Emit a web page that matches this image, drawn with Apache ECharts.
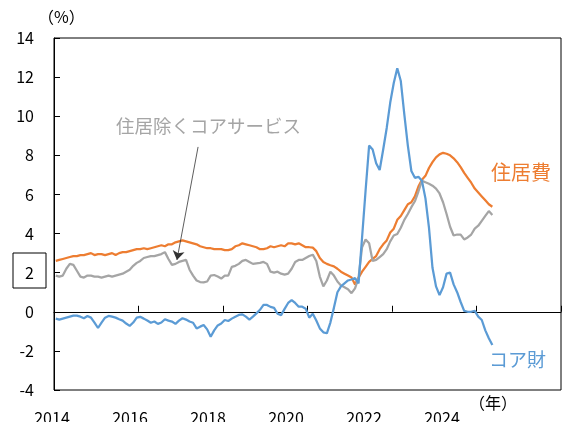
<!DOCTYPE html>
<html><head><meta charset="utf-8">
<script src="https://cdn.jsdelivr.net/npm/echarts@6/dist/echarts.min.js"></script>
<style>html,body{margin:0;padding:0;background:#fff}#c{width:564px;height:422px}</style>
</head><body><div id="c"></div>
<script>
// Monthly data, Jan 2014 - May 2024 (YoY %)
const startYear = 2014;
const shelter = [
 2.6,2.65,2.7,2.75,2.8,2.85,2.85,2.9,2.9,2.95,3.0,2.9,
 2.95,2.95,2.9,2.95,3.0,2.9,3.0,3.05,3.05,3.1,3.15,3.2,
 3.2,3.25,3.2,3.25,3.3,3.35,3.4,3.35,3.45,3.45,3.55,3.6,
 3.65,3.6,3.55,3.5,3.45,3.35,3.3,3.25,3.25,3.2,3.2,3.2,
 3.15,3.15,3.2,3.35,3.4,3.5,3.45,3.4,3.35,3.3,3.2,3.2,
 3.25,3.35,3.3,3.35,3.4,3.35,3.5,3.5,3.45,3.5,3.4,3.3,
 3.3,3.28,3.1,2.75,2.55,2.45,2.38,2.32,2.2,2.05,1.95,1.85,
 1.75,1.4,1.75,2.05,2.3,2.55,2.7,2.85,3.2,3.45,3.65,4.05,
 4.25,4.7,4.9,5.2,5.5,5.6,5.9,6.4,6.75,6.95,7.35,7.65,
 7.9,8.05,8.13,8.08,8.0,7.85,7.65,7.4,7.1,6.85,6.6,6.3,
 6.1,5.9,5.7,5.5,5.37
];
const servicesExShelter = [
 1.85,1.8,1.85,2.2,2.45,2.4,2.1,1.8,1.75,1.85,1.85,1.8,
 1.8,1.75,1.8,1.85,1.8,1.85,1.9,1.95,2.05,2.15,2.35,2.5,
 2.6,2.75,2.8,2.85,2.85,2.9,2.95,3.05,2.7,2.4,2.45,2.55,
 2.6,2.65,2.15,1.85,1.6,1.52,1.5,1.55,1.85,1.88,1.8,1.7,
 1.85,1.85,2.3,2.35,2.45,2.6,2.65,2.55,2.45,2.48,2.5,2.55,
 2.45,2.05,2.0,2.05,1.95,1.9,1.95,2.2,2.55,2.65,2.65,2.75,
 2.85,2.92,2.6,1.8,1.3,1.6,2.05,1.85,1.55,1.35,1.25,1.15,
 0.95,1.2,1.75,3.3,3.7,3.5,2.6,2.65,2.8,2.95,3.2,3.6,
 3.9,3.98,4.3,4.7,5.0,5.35,5.65,6.15,6.7,6.62,6.55,6.45,
 6.3,6.05,5.6,5.0,4.35,3.9,3.95,3.95,3.7,3.8,3.95,4.25,
 4.4,4.65,4.9,5.15,4.95
];
const coreGoods = [
 -0.35,-0.4,-0.35,-0.3,-0.25,-0.2,-0.2,-0.25,-0.33,-0.22,-0.3,-0.55,
 -0.83,-0.55,-0.3,-0.21,-0.25,-0.3,-0.38,-0.45,-0.6,-0.72,-0.55,-0.3,
 -0.26,-0.35,-0.45,-0.56,-0.5,-0.62,-0.55,-0.38,-0.45,-0.5,-0.62,-0.45,
 -0.33,-0.4,-0.5,-0.56,-0.85,-0.76,-0.68,-0.9,-1.28,-0.95,-0.7,-0.6,
 -0.42,-0.47,-0.35,-0.25,-0.16,-0.13,-0.25,-0.4,-0.25,-0.08,0.1,0.35,
 0.35,0.25,0.2,-0.1,-0.17,0.15,0.45,0.6,0.45,0.26,0.26,0.16,
 -0.3,-0.1,-0.45,-0.85,-1.05,-1.1,-0.55,0.2,1.0,1.3,1.45,1.6,
 1.65,1.72,1.45,3.8,6.2,8.5,8.3,7.6,7.25,8.3,9.4,10.7,
 11.7,12.45,11.8,10.1,8.5,7.2,6.85,6.9,6.7,5.8,4.3,2.25,
 1.3,0.85,1.25,1.95,2.0,1.4,1.0,0.5,0.05,0.0,0.0,0.05,
 -0.25,-0.42,-0.95,-1.35,-1.7
];
const yearTicks = [2014, 2016, 2018, 2020, 2022, 2024];
const seriesNames = ['住居費', '住居除くコアサービス', 'コア財'];
const colors = ['#ED7D31', '#A5A5A5', '#5B9BD5'];

// x position of each month: mid-month, in years
const toXY = arr => arr.map((v, i) => [startYear + (i + 0.5) / 12, v]);
const FONT = "'Noto Sans CJK JP','Noto Sans',sans-serif";

const chart = echarts.init(document.getElementById('c'), null, {renderer: 'canvas'});
chart.setOption({
  animation: false,
  textStyle: {fontFamily: FONT},
  grid: [
    {left: 54, right: 3, top: 38, bottom: 32, show: true, borderColor: '#000', borderWidth: 1,
     containLabel: false, outerBoundsMode: 'none'},
    {left: 52, right: 44, top: 38, bottom: 32, show: false,
     containLabel: false, outerBoundsMode: 'none'}
  ],
  xAxis: [
    {type: 'value', gridIndex: 0, min: 2014, max: 2026, interval: 2,
     axisLine: {onZero: true, lineStyle: {color: '#000', width: 1}},
     axisTick: {show: true, inside: true, length: 6, lineStyle: {color: '#000'}},
     axisLabel: {show: false}, splitLine: {show: false}},
    {type: 'value', gridIndex: 1, min: 2014, max: 2026, interval: 2, position: 'bottom',
     axisLine: {show: false, onZero: false}, axisTick: {show: false}, splitLine: {show: false},
     axisLabel: {show: true, margin: 20, fontSize: 16, color: '#000', fontFamily: FONT,
       formatter: v => (yearTicks.indexOf(v) >= 0 ? String(v) : '')}}
  ],
  yAxis: [
    {type: 'value', gridIndex: 0, min: -4, max: 14, interval: 2,
     axisLine: {show: true, lineStyle: {color: '#000', width: 1}},
     axisTick: {show: true, inside: true, length: 6, lineStyle: {color: '#000'}},
     axisLabel: {fontSize: 16, color: '#000', margin: 20, fontFamily: FONT},
     splitLine: {show: false}},
    {type: 'value', gridIndex: 1, min: -4, max: 14, show: false}
  ],
  series: [
    {name: seriesNames[0], type: 'line', data: toXY(shelter), showSymbol: false,
     lineStyle: {color: colors[0], width: 2.25}, itemStyle: {color: colors[0]}, z: 3},
    {name: seriesNames[1], type: 'line', data: toXY(servicesExShelter), showSymbol: false,
     lineStyle: {color: colors[1], width: 2.25}, itemStyle: {color: colors[1]}, z: 4,
     markLine: {silent: true, symbol: ['none', 'arrow'], symbolSize: 9, label: {show: false},
       lineStyle: {color: '#333', width: 0.8, type: 'solid'},
       data: [[{coord: [2017.41, 8.43]}, {coord: [2016.91, 2.65]}]]}},
    {name: seriesNames[2], type: 'line', data: toXY(coreGoods), showSymbol: false,
     lineStyle: {color: colors[2], width: 2.25}, itemStyle: {color: colors[2]}, z: 5}
  ],
  graphic: [
    {type: 'text', left: 38, top: 9, style: {text: '（%）', font: '16px ' + FONT, fill: '#000'}},
    {type: 'text', left: 469, top: 395, style: {text: '（年）', font: '16px ' + FONT, fill: '#000'}},
    {type: 'text', left: 116, top: 117, style: {text: seriesNames[1], font: '18.5px ' + FONT, fill: colors[1]}},
    {type: 'text', left: 491, top: 162, style: {text: seriesNames[0], font: '20px ' + FONT, fill: colors[0]}},
    {type: 'text', left: 489, top: 350, style: {text: seriesNames[2], font: '19px ' + FONT, fill: colors[2]}},
    {type: 'rect', shape: {x: 13, y: 253, width: 33, height: 35}, style: {fill: 'none', stroke: '#000', lineWidth: 1}}
  ]
});
</script></body></html>
